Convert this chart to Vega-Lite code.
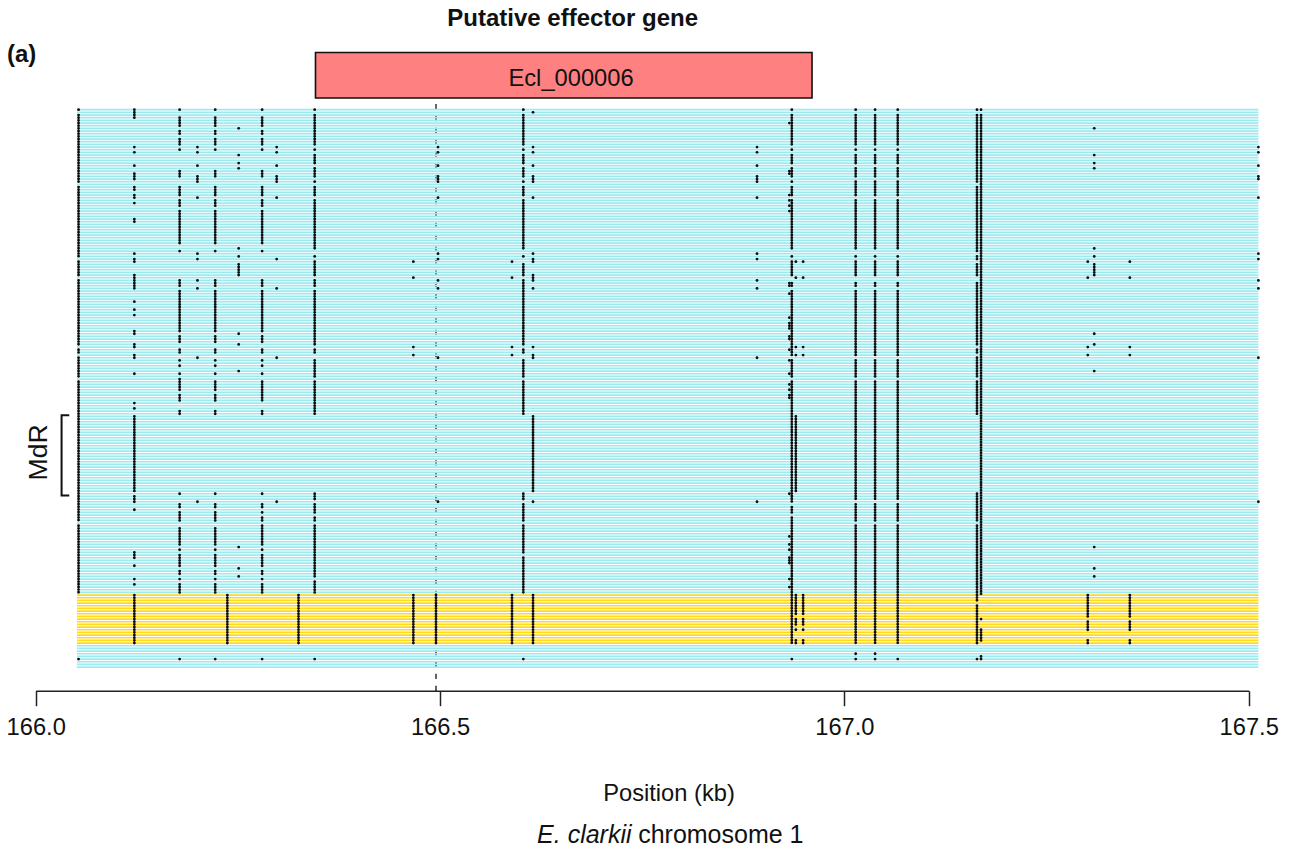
{
"$schema":"https://vega.github.io/schema/vega-lite/v6.json",
"width":1293,"height":852,"padding":0,"autosize":{"type":"none"},"background":"white",
"view":{"stroke":null},
"config":{"font":"Liberation Sans"},
"datasets":{
"rows":[{"x":166.051,"e":167.512,"r":0,"g":"I"},{"x":166.051,"e":167.512,"r":1,"g":"I"},{"x":166.051,"e":167.512,"r":2,"g":"I"},{"x":166.051,"e":167.512,"r":3,"g":"I"},{"x":166.051,"e":167.512,"r":4,"g":"I"},{"x":166.051,"e":167.512,"r":5,"g":"I"},{"x":166.051,"e":167.512,"r":6,"g":"I"},{"x":166.051,"e":167.512,"r":7,"g":"I"},{"x":166.051,"e":167.512,"r":8,"g":"I"},{"x":166.051,"e":167.512,"r":9,"g":"I"},{"x":166.051,"e":167.512,"r":10,"g":"I"},{"x":166.051,"e":167.512,"r":11,"g":"I"},{"x":166.051,"e":167.512,"r":12,"g":"I"},{"x":166.051,"e":167.512,"r":13,"g":"I"},{"x":166.051,"e":167.512,"r":14,"g":"I"},{"x":166.051,"e":167.512,"r":15,"g":"I"},{"x":166.051,"e":167.512,"r":16,"g":"I"},{"x":166.051,"e":167.512,"r":17,"g":"I"},{"x":166.051,"e":167.512,"r":18,"g":"I"},{"x":166.051,"e":167.512,"r":19,"g":"I"},{"x":166.051,"e":167.512,"r":20,"g":"I"},{"x":166.051,"e":167.512,"r":21,"g":"I"},{"x":166.051,"e":167.512,"r":22,"g":"I"},{"x":166.051,"e":167.512,"r":23,"g":"I"},{"x":166.051,"e":167.512,"r":24,"g":"I"},{"x":166.051,"e":167.512,"r":25,"g":"I"},{"x":166.051,"e":167.512,"r":26,"g":"I"},{"x":166.051,"e":167.512,"r":27,"g":"I"},{"x":166.051,"e":167.512,"r":28,"g":"I"},{"x":166.051,"e":167.512,"r":29,"g":"I"},{"x":166.051,"e":167.512,"r":30,"g":"I"},{"x":166.051,"e":167.512,"r":31,"g":"I"},{"x":166.051,"e":167.512,"r":32,"g":"I"},{"x":166.051,"e":167.512,"r":33,"g":"I"},{"x":166.051,"e":167.512,"r":34,"g":"I"},{"x":166.051,"e":167.512,"r":35,"g":"I"},{"x":166.051,"e":167.512,"r":36,"g":"I"},{"x":166.051,"e":167.512,"r":37,"g":"I"},{"x":166.051,"e":167.512,"r":38,"g":"I"},{"x":166.051,"e":167.512,"r":39,"g":"I"},{"x":166.051,"e":167.512,"r":40,"g":"I"},{"x":166.051,"e":167.512,"r":41,"g":"I"},{"x":166.051,"e":167.512,"r":42,"g":"I"},{"x":166.051,"e":167.512,"r":43,"g":"I"},{"x":166.051,"e":167.512,"r":44,"g":"I"},{"x":166.051,"e":167.512,"r":45,"g":"I"},{"x":166.051,"e":167.512,"r":46,"g":"I"},{"x":166.051,"e":167.512,"r":47,"g":"I"},{"x":166.051,"e":167.512,"r":48,"g":"I"},{"x":166.051,"e":167.512,"r":49,"g":"I"},{"x":166.051,"e":167.512,"r":50,"g":"I"},{"x":166.051,"e":167.512,"r":51,"g":"I"},{"x":166.051,"e":167.512,"r":52,"g":"I"},{"x":166.051,"e":167.512,"r":53,"g":"I"},{"x":166.051,"e":167.512,"r":54,"g":"I"},{"x":166.051,"e":167.512,"r":55,"g":"I"},{"x":166.051,"e":167.512,"r":56,"g":"I"},{"x":166.051,"e":167.512,"r":57,"g":"I"},{"x":166.051,"e":167.512,"r":58,"g":"I"},{"x":166.051,"e":167.512,"r":59,"g":"I"},{"x":166.051,"e":167.512,"r":60,"g":"I"},{"x":166.051,"e":167.512,"r":61,"g":"I"},{"x":166.051,"e":167.512,"r":62,"g":"I"},{"x":166.051,"e":167.512,"r":63,"g":"I"},{"x":166.051,"e":167.512,"r":64,"g":"I"},{"x":166.051,"e":167.512,"r":65,"g":"I"},{"x":166.051,"e":167.512,"r":66,"g":"I"},{"x":166.051,"e":167.512,"r":67,"g":"I"},{"x":166.051,"e":167.512,"r":68,"g":"I"},{"x":166.051,"e":167.512,"r":69,"g":"I"},{"x":166.051,"e":167.512,"r":70,"g":"I"},{"x":166.051,"e":167.512,"r":71,"g":"I"},{"x":166.051,"e":167.512,"r":72,"g":"I"},{"x":166.051,"e":167.512,"r":73,"g":"I"},{"x":166.051,"e":167.512,"r":74,"g":"I"},{"x":166.051,"e":167.512,"r":75,"g":"I"},{"x":166.051,"e":167.512,"r":76,"g":"I"},{"x":166.051,"e":167.512,"r":77,"g":"I"},{"x":166.051,"e":167.512,"r":78,"g":"I"},{"x":166.051,"e":167.512,"r":79,"g":"I"},{"x":166.051,"e":167.512,"r":80,"g":"I"},{"x":166.051,"e":167.512,"r":81,"g":"I"},{"x":166.051,"e":167.512,"r":82,"g":"I"},{"x":166.051,"e":167.512,"r":83,"g":"I"},{"x":166.051,"e":167.512,"r":84,"g":"I"},{"x":166.051,"e":167.512,"r":85,"g":"I"},{"x":166.051,"e":167.512,"r":86,"g":"I"},{"x":166.051,"e":167.512,"r":87,"g":"I"},{"x":166.051,"e":167.512,"r":88,"g":"I"},{"x":166.051,"e":167.512,"r":89,"g":"I"},{"x":166.051,"e":167.512,"r":90,"g":"I"},{"x":166.051,"e":167.512,"r":91,"g":"I"},{"x":166.051,"e":167.512,"r":92,"g":"I"},{"x":166.051,"e":167.512,"r":93,"g":"I"},{"x":166.051,"e":167.512,"r":94,"g":"I"},{"x":166.051,"e":167.512,"r":95,"g":"I"},{"x":166.051,"e":167.512,"r":96,"g":"I"},{"x":166.051,"e":167.512,"r":97,"g":"I"},{"x":166.051,"e":167.512,"r":98,"g":"I"},{"x":166.051,"e":167.512,"r":99,"g":"I"},{"x":166.051,"e":167.512,"r":100,"g":"I"},{"x":166.051,"e":167.512,"r":101,"g":"I"},{"x":166.051,"e":167.512,"r":102,"g":"I"},{"x":166.051,"e":167.512,"r":103,"g":"I"},{"x":166.051,"e":167.512,"r":104,"g":"I"},{"x":166.051,"e":167.512,"r":105,"g":"I"},{"x":166.051,"e":167.512,"r":106,"g":"I"},{"x":166.051,"e":167.512,"r":107,"g":"I"},{"x":166.051,"e":167.512,"r":108,"g":"I"},{"x":166.051,"e":167.512,"r":109,"g":"I"},{"x":166.051,"e":167.512,"r":110,"g":"I"},{"x":166.051,"e":167.512,"r":111,"g":"I"},{"x":166.051,"e":167.512,"r":112,"g":"I"},{"x":166.051,"e":167.512,"r":113,"g":"I"},{"x":166.051,"e":167.512,"r":114,"g":"I"},{"x":166.051,"e":167.512,"r":115,"g":"I"},{"x":166.051,"e":167.512,"r":116,"g":"I"},{"x":166.051,"e":167.512,"r":117,"g":"I"},{"x":166.051,"e":167.512,"r":118,"g":"I"},{"x":166.051,"e":167.512,"r":119,"g":"I"},{"x":166.051,"e":167.512,"r":120,"g":"I"},{"x":166.051,"e":167.512,"r":121,"g":"I"},{"x":166.051,"e":167.512,"r":122,"g":"I"},{"x":166.051,"e":167.512,"r":123,"g":"I"},{"x":166.051,"e":167.512,"r":124,"g":"I"},{"x":166.051,"e":167.512,"r":125,"g":"I"},{"x":166.051,"e":167.512,"r":126,"g":"I"},{"x":166.051,"e":167.512,"r":127,"g":"I"},{"x":166.051,"e":167.512,"r":128,"g":"I"},{"x":166.051,"e":167.512,"r":129,"g":"I"},{"x":166.051,"e":167.512,"r":130,"g":"I"},{"x":166.051,"e":167.512,"r":131,"g":"I"},{"x":166.051,"e":167.512,"r":132,"g":"I"},{"x":166.051,"e":167.512,"r":133,"g":"I"},{"x":166.051,"e":167.512,"r":134,"g":"I"},{"x":166.051,"e":167.512,"r":135,"g":"I"},{"x":166.051,"e":167.512,"r":136,"g":"I"},{"x":166.051,"e":167.512,"r":137,"g":"I"},{"x":166.051,"e":167.512,"r":138,"g":"I"},{"x":166.051,"e":167.512,"r":139,"g":"I"},{"x":166.051,"e":167.512,"r":140,"g":"I"},{"x":166.051,"e":167.512,"r":141,"g":"I"},{"x":166.051,"e":167.512,"r":142,"g":"I"},{"x":166.051,"e":167.512,"r":143,"g":"I"},{"x":166.051,"e":167.512,"r":144,"g":"I"},{"x":166.051,"e":167.512,"r":145,"g":"I"},{"x":166.051,"e":167.512,"r":146,"g":"I"},{"x":166.051,"e":167.512,"r":147,"g":"I"},{"x":166.051,"e":167.512,"r":148,"g":"I"},{"x":166.051,"e":167.512,"r":149,"g":"I"},{"x":166.051,"e":167.512,"r":150,"g":"I"},{"x":166.051,"e":167.512,"r":151,"g":"I"},{"x":166.051,"e":167.512,"r":152,"g":"I"},{"x":166.051,"e":167.512,"r":153,"g":"I"},{"x":166.051,"e":167.512,"r":154,"g":"I"},{"x":166.051,"e":167.512,"r":155,"g":"I"},{"x":166.051,"e":167.512,"r":156,"g":"I"},{"x":166.051,"e":167.512,"r":157,"g":"I"},{"x":166.051,"e":167.512,"r":158,"g":"I"},{"x":166.051,"e":167.512,"r":159,"g":"I"},{"x":166.051,"e":167.512,"r":160,"g":"I"},{"x":166.051,"e":167.512,"r":161,"g":"I"},{"x":166.051,"e":167.512,"r":162,"g":"I"},{"x":166.051,"e":167.512,"r":163,"g":"I"},{"x":166.051,"e":167.512,"r":164,"g":"I"},{"x":166.051,"e":167.512,"r":165,"g":"I"},{"x":166.051,"e":167.512,"r":166,"g":"I"},{"x":166.051,"e":167.512,"r":167,"g":"I"},{"x":166.051,"e":167.512,"r":168,"g":"I"},{"x":166.051,"e":167.512,"r":169,"g":"I"},{"x":166.051,"e":167.512,"r":170,"g":"I"},{"x":166.051,"e":167.512,"r":171,"g":"I"},{"x":166.051,"e":167.512,"r":172,"g":"I"},{"x":166.051,"e":167.512,"r":173,"g":"I"},{"x":166.051,"e":167.512,"r":174,"g":"I"},{"x":166.051,"e":167.512,"r":175,"g":"I"},{"x":166.051,"e":167.512,"r":176,"g":"I"},{"x":166.051,"e":167.512,"r":177,"g":"I"},{"x":166.051,"e":167.512,"r":178,"g":"I"},{"x":166.051,"e":167.512,"r":179,"g":"I"},{"x":166.051,"e":167.512,"r":180,"g":"I"},{"x":166.051,"e":167.512,"r":181,"g":"I"},{"x":166.051,"e":167.512,"r":182,"g":"II"},{"x":166.051,"e":167.512,"r":183,"g":"II"},{"x":166.051,"e":167.512,"r":184,"g":"II"},{"x":166.051,"e":167.512,"r":185,"g":"II"},{"x":166.051,"e":167.512,"r":186,"g":"II"},{"x":166.051,"e":167.512,"r":187,"g":"II"},{"x":166.051,"e":167.512,"r":188,"g":"II"},{"x":166.051,"e":167.512,"r":189,"g":"II"},{"x":166.051,"e":167.512,"r":190,"g":"II"},{"x":166.051,"e":167.512,"r":191,"g":"II"},{"x":166.051,"e":167.512,"r":192,"g":"II"},{"x":166.051,"e":167.512,"r":193,"g":"II"},{"x":166.051,"e":167.512,"r":194,"g":"II"},{"x":166.051,"e":167.512,"r":195,"g":"II"},{"x":166.051,"e":167.512,"r":196,"g":"II"},{"x":166.051,"e":167.512,"r":197,"g":"II"},{"x":166.051,"e":167.512,"r":198,"g":"II"},{"x":166.051,"e":167.512,"r":199,"g":"II"},{"x":166.051,"e":167.512,"r":200,"g":"II"},{"x":166.051,"e":167.512,"r":201,"g":"I"},{"x":166.051,"e":167.512,"r":202,"g":"I"},{"x":166.051,"e":167.512,"r":203,"g":"I"},{"x":166.051,"e":167.512,"r":204,"g":"I"},{"x":166.051,"e":167.512,"r":205,"g":"I"},{"x":166.051,"e":167.512,"r":206,"g":"I"},{"x":166.051,"e":167.512,"r":207,"g":"I"},{"x":166.051,"e":167.512,"r":208,"g":"I"},{"x":166.051,"e":167.512,"r":209,"g":"I"}],
"runs":[
{"x":166.053,"a":0,"b":0},{"x":166.053,"a":2,"b":27},{"x":166.053,"a":29,"b":55},{"x":166.053,"a":57,"b":62},{"x":166.053,"a":64,"b":88},{"x":166.053,"a":90,"b":91},{"x":166.053,"a":93,"b":100},{"x":166.053,"a":102,"b":154},{"x":166.053,"a":156,"b":181},{"x":166.053,"a":206,"b":206},
{"x":166.122,"a":0,"b":3},{"x":166.122,"a":14,"b":14},{"x":166.122,"a":16,"b":16},{"x":166.122,"a":21,"b":21},{"x":166.122,"a":24,"b":26},{"x":166.122,"a":29,"b":30},{"x":166.122,"a":32,"b":33},{"x":166.122,"a":35,"b":35},{"x":166.122,"a":41,"b":42},{"x":166.122,"a":54,"b":54},{"x":166.122,"a":56,"b":57},{"x":166.122,"a":62,"b":67},{"x":166.122,"a":72,"b":72},{"x":166.122,"a":75,"b":75},{"x":166.122,"a":77,"b":77},{"x":166.122,"a":83,"b":84},{"x":166.122,"a":88,"b":89},{"x":166.122,"a":92,"b":93},{"x":166.122,"a":99,"b":99},{"x":166.122,"a":110,"b":110},{"x":166.122,"a":112,"b":112},{"x":166.122,"a":115,"b":143},{"x":166.122,"a":145,"b":147},{"x":166.122,"a":150,"b":150},{"x":166.122,"a":166,"b":168},{"x":166.122,"a":171,"b":171},{"x":166.122,"a":176,"b":176},{"x":166.122,"a":178,"b":178},{"x":166.122,"a":182,"b":200},
{"x":166.178,"a":0,"b":0},{"x":166.178,"a":3,"b":6},{"x":166.178,"a":8,"b":9},{"x":166.178,"a":11,"b":13},{"x":166.178,"a":15,"b":15},{"x":166.178,"a":23,"b":25},{"x":166.178,"a":29,"b":32},{"x":166.178,"a":34,"b":36},{"x":166.178,"a":38,"b":50},{"x":166.178,"a":53,"b":53},{"x":166.178,"a":64,"b":66},{"x":166.178,"a":68,"b":83},{"x":166.178,"a":85,"b":87},{"x":166.178,"a":90,"b":91},{"x":166.178,"a":94,"b":94},{"x":166.178,"a":96,"b":96},{"x":166.178,"a":99,"b":99},{"x":166.178,"a":101,"b":105},{"x":166.178,"a":107,"b":109},{"x":166.178,"a":113,"b":114},{"x":166.178,"a":144,"b":144},{"x":166.178,"a":148,"b":149},{"x":166.178,"a":151,"b":154},{"x":166.178,"a":157,"b":163},{"x":166.178,"a":165,"b":165},{"x":166.178,"a":167,"b":171},{"x":166.178,"a":173,"b":174},{"x":166.178,"a":176,"b":176},{"x":166.178,"a":178,"b":181},{"x":166.178,"a":206,"b":206},
{"x":166.222,"a":0,"b":0},{"x":166.222,"a":3,"b":6},{"x":166.222,"a":8,"b":9},{"x":166.222,"a":11,"b":13},{"x":166.222,"a":15,"b":15},{"x":166.222,"a":23,"b":25},{"x":166.222,"a":29,"b":32},{"x":166.222,"a":34,"b":36},{"x":166.222,"a":38,"b":50},{"x":166.222,"a":53,"b":53},{"x":166.222,"a":64,"b":66},{"x":166.222,"a":68,"b":83},{"x":166.222,"a":85,"b":87},{"x":166.222,"a":90,"b":91},{"x":166.222,"a":94,"b":94},{"x":166.222,"a":96,"b":96},{"x":166.222,"a":99,"b":99},{"x":166.222,"a":102,"b":105},{"x":166.222,"a":107,"b":109},{"x":166.222,"a":113,"b":114},{"x":166.222,"a":144,"b":144},{"x":166.222,"a":148,"b":149},{"x":166.222,"a":151,"b":154},{"x":166.222,"a":157,"b":163},{"x":166.222,"a":165,"b":165},{"x":166.222,"a":167,"b":171},{"x":166.222,"a":173,"b":174},{"x":166.222,"a":176,"b":176},{"x":166.222,"a":178,"b":181},{"x":166.222,"a":206,"b":206},
{"x":166.28,"a":0,"b":0},{"x":166.28,"a":3,"b":6},{"x":166.28,"a":8,"b":9},{"x":166.28,"a":11,"b":13},{"x":166.28,"a":15,"b":15},{"x":166.28,"a":23,"b":25},{"x":166.28,"a":29,"b":32},{"x":166.28,"a":34,"b":36},{"x":166.28,"a":38,"b":50},{"x":166.28,"a":53,"b":53},{"x":166.28,"a":64,"b":66},{"x":166.28,"a":68,"b":83},{"x":166.28,"a":85,"b":87},{"x":166.28,"a":90,"b":91},{"x":166.28,"a":94,"b":94},{"x":166.28,"a":96,"b":96},{"x":166.28,"a":99,"b":99},{"x":166.28,"a":102,"b":109},{"x":166.28,"a":113,"b":114},{"x":166.28,"a":144,"b":144},{"x":166.28,"a":148,"b":149},{"x":166.28,"a":151,"b":151},{"x":166.28,"a":153,"b":154},{"x":166.28,"a":156,"b":163},{"x":166.28,"a":165,"b":165},{"x":166.28,"a":167,"b":171},{"x":166.28,"a":173,"b":174},{"x":166.28,"a":176,"b":176},{"x":166.28,"a":178,"b":181},{"x":166.28,"a":206,"b":206},
{"x":166.345,"a":0,"b":0},{"x":166.345,"a":2,"b":13},{"x":166.345,"a":15,"b":15},{"x":166.345,"a":17,"b":20},{"x":166.345,"a":22,"b":25},{"x":166.345,"a":27,"b":27},{"x":166.345,"a":29,"b":32},{"x":166.345,"a":34,"b":52},{"x":166.345,"a":55,"b":55},{"x":166.345,"a":57,"b":62},{"x":166.345,"a":64,"b":66},{"x":166.345,"a":68,"b":88},{"x":166.345,"a":90,"b":91},{"x":166.345,"a":94,"b":100},{"x":166.345,"a":102,"b":114},{"x":166.345,"a":144,"b":146},{"x":166.345,"a":148,"b":151},{"x":166.345,"a":153,"b":154},{"x":166.345,"a":156,"b":175},{"x":166.345,"a":177,"b":181},{"x":166.345,"a":206,"b":206},
{"x":166.2,"a":14,"b":14},{"x":166.2,"a":16,"b":16},{"x":166.2,"a":21,"b":21},{"x":166.2,"a":25,"b":27},{"x":166.2,"a":33,"b":33},{"x":166.2,"a":54,"b":54},{"x":166.2,"a":56,"b":56},{"x":166.2,"a":64,"b":64},{"x":166.2,"a":67,"b":67},{"x":166.2,"a":93,"b":93},{"x":166.2,"a":147,"b":147},
{"x":166.298,"a":14,"b":14},{"x":166.298,"a":16,"b":16},{"x":166.298,"a":21,"b":21},{"x":166.298,"a":25,"b":27},{"x":166.298,"a":33,"b":33},{"x":166.298,"a":56,"b":56},{"x":166.298,"a":67,"b":67},{"x":166.298,"a":93,"b":93},{"x":166.298,"a":147,"b":147},
{"x":166.4975,"a":14,"b":14},{"x":166.4975,"a":16,"b":16},{"x":166.4975,"a":21,"b":21},{"x":166.4975,"a":25,"b":27},{"x":166.4975,"a":33,"b":33},{"x":166.4975,"a":54,"b":54},{"x":166.4975,"a":56,"b":56},{"x":166.4975,"a":64,"b":64},{"x":166.4975,"a":67,"b":67},{"x":166.4975,"a":93,"b":93},{"x":166.4975,"a":147,"b":147},
{"x":166.892,"a":14,"b":14},{"x":166.892,"a":16,"b":16},{"x":166.892,"a":21,"b":21},{"x":166.892,"a":25,"b":27},{"x":166.892,"a":33,"b":33},{"x":166.892,"a":54,"b":54},{"x":166.892,"a":56,"b":56},{"x":166.892,"a":64,"b":64},{"x":166.892,"a":67,"b":67},{"x":166.892,"a":93,"b":93},{"x":166.892,"a":147,"b":147},
{"x":167.512,"a":14,"b":14},{"x":167.512,"a":16,"b":16},{"x":167.512,"a":21,"b":21},{"x":167.512,"a":25,"b":26},{"x":167.512,"a":33,"b":33},{"x":167.512,"a":54,"b":54},{"x":167.512,"a":56,"b":56},{"x":167.512,"a":64,"b":64},{"x":167.512,"a":67,"b":67},{"x":167.512,"a":93,"b":93},{"x":167.512,"a":147,"b":147},
{"x":166.615,"a":1,"b":1},{"x":166.615,"a":14,"b":14},{"x":166.615,"a":16,"b":16},{"x":166.615,"a":21,"b":21},{"x":166.615,"a":25,"b":27},{"x":166.615,"a":33,"b":33},{"x":166.615,"a":54,"b":54},{"x":166.615,"a":56,"b":57},{"x":166.615,"a":62,"b":64},{"x":166.615,"a":67,"b":67},{"x":166.615,"a":89,"b":89},{"x":166.615,"a":92,"b":93},{"x":166.615,"a":115,"b":143},{"x":166.615,"a":147,"b":147},{"x":166.615,"a":182,"b":200},
{"x":166.251,"a":7,"b":7},{"x":166.251,"a":17,"b":17},{"x":166.251,"a":20,"b":20},{"x":166.251,"a":22,"b":22},{"x":166.251,"a":52,"b":52},{"x":166.251,"a":55,"b":55},{"x":166.251,"a":58,"b":62},{"x":166.251,"a":84,"b":84},{"x":166.251,"a":88,"b":88},{"x":166.251,"a":98,"b":98},{"x":166.251,"a":164,"b":164},{"x":166.251,"a":172,"b":172},{"x":166.251,"a":175,"b":175},
{"x":167.309,"a":7,"b":7},{"x":167.309,"a":17,"b":17},{"x":167.309,"a":20,"b":20},{"x":167.309,"a":22,"b":22},{"x":167.309,"a":52,"b":52},{"x":167.309,"a":55,"b":55},{"x":167.309,"a":58,"b":62},{"x":167.309,"a":84,"b":84},{"x":167.309,"a":88,"b":88},{"x":167.309,"a":98,"b":98},{"x":167.309,"a":164,"b":164},{"x":167.309,"a":172,"b":172},{"x":167.309,"a":175,"b":175},
{"x":166.237,"a":182,"b":200},{"x":166.325,"a":182,"b":200},{"x":166.495,"a":182,"b":200},
{"x":166.467,"a":57,"b":57},{"x":166.467,"a":63,"b":63},{"x":166.467,"a":89,"b":89},{"x":166.467,"a":92,"b":92},{"x":166.467,"a":182,"b":200},
{"x":166.589,"a":57,"b":57},{"x":166.589,"a":63,"b":63},{"x":166.589,"a":89,"b":89},{"x":166.589,"a":92,"b":92},{"x":166.589,"a":182,"b":200},
{"x":167.301,"a":57,"b":57},{"x":167.301,"a":63,"b":63},{"x":167.301,"a":89,"b":89},{"x":167.301,"a":92,"b":92},{"x":167.301,"a":182,"b":190},{"x":167.301,"a":192,"b":195},{"x":167.301,"a":199,"b":200},
{"x":167.353,"a":57,"b":57},{"x":167.353,"a":63,"b":63},{"x":167.353,"a":89,"b":89},{"x":167.353,"a":92,"b":92},{"x":167.353,"a":182,"b":190},{"x":167.353,"a":192,"b":195},{"x":167.353,"a":199,"b":200},
{"x":166.603,"a":0,"b":0},{"x":166.603,"a":2,"b":13},{"x":166.603,"a":15,"b":15},{"x":166.603,"a":17,"b":20},{"x":166.603,"a":22,"b":25},{"x":166.603,"a":27,"b":27},{"x":166.603,"a":29,"b":32},{"x":166.603,"a":34,"b":52},{"x":166.603,"a":55,"b":55},{"x":166.603,"a":58,"b":62},{"x":166.603,"a":64,"b":88},{"x":166.603,"a":90,"b":91},{"x":166.603,"a":94,"b":100},{"x":166.603,"a":102,"b":114},{"x":166.603,"a":144,"b":146},{"x":166.603,"a":148,"b":154},{"x":166.603,"a":156,"b":166},{"x":166.603,"a":168,"b":181},{"x":166.603,"a":206,"b":206},
{"x":166.935,"a":0,"b":0},{"x":166.935,"a":2,"b":13},{"x":166.935,"a":15,"b":15},{"x":166.935,"a":17,"b":20},{"x":166.935,"a":22,"b":25},{"x":166.935,"a":27,"b":27},{"x":166.935,"a":29,"b":32},{"x":166.935,"a":34,"b":52},{"x":166.935,"a":55,"b":55},{"x":166.935,"a":57,"b":62},{"x":166.935,"a":65,"b":66},{"x":166.935,"a":68,"b":92},{"x":166.935,"a":94,"b":100},{"x":166.935,"a":102,"b":147},{"x":166.935,"a":149,"b":151},{"x":166.935,"a":153,"b":200},{"x":166.935,"a":206,"b":206},
{"x":166.932,"a":5,"b":5},{"x":166.932,"a":23,"b":24},{"x":166.932,"a":32,"b":32},{"x":166.932,"a":34,"b":34},{"x":166.932,"a":36,"b":36},{"x":166.932,"a":38,"b":38},{"x":166.932,"a":65,"b":66},{"x":166.932,"a":69,"b":69},{"x":166.932,"a":78,"b":78},{"x":166.932,"a":80,"b":82},{"x":166.932,"a":85,"b":86},{"x":166.932,"a":90,"b":90},{"x":166.932,"a":94,"b":94},{"x":166.932,"a":99,"b":99},{"x":166.932,"a":103,"b":103},{"x":166.932,"a":105,"b":105},{"x":166.932,"a":107,"b":108},{"x":166.932,"a":144,"b":144},{"x":166.932,"a":160,"b":160},{"x":166.932,"a":163,"b":163},{"x":166.932,"a":165,"b":165},{"x":166.932,"a":168,"b":170},{"x":166.932,"a":176,"b":176},{"x":166.932,"a":179,"b":179},
{"x":166.94,"a":57,"b":57},{"x":166.94,"a":63,"b":63},{"x":166.94,"a":89,"b":89},{"x":166.94,"a":92,"b":92},{"x":166.94,"a":115,"b":143},{"x":166.94,"a":182,"b":189},{"x":166.94,"a":191,"b":193},{"x":166.94,"a":195,"b":195},{"x":166.94,"a":199,"b":200},
{"x":166.949,"a":57,"b":57},{"x":166.949,"a":63,"b":63},{"x":166.949,"a":89,"b":89},{"x":166.949,"a":92,"b":92},{"x":166.949,"a":182,"b":189},{"x":166.949,"a":191,"b":193},{"x":166.949,"a":195,"b":195},{"x":166.949,"a":199,"b":200},
{"x":167.014,"a":0,"b":0},{"x":167.014,"a":2,"b":13},{"x":167.014,"a":15,"b":15},{"x":167.014,"a":17,"b":20},{"x":167.014,"a":22,"b":25},{"x":167.014,"a":27,"b":32},{"x":167.014,"a":34,"b":52},{"x":167.014,"a":55,"b":55},{"x":167.014,"a":57,"b":62},{"x":167.014,"a":65,"b":66},{"x":167.014,"a":68,"b":92},{"x":167.014,"a":94,"b":100},{"x":167.014,"a":102,"b":146},{"x":167.014,"a":148,"b":154},{"x":167.014,"a":156,"b":200},{"x":167.014,"a":204,"b":204},{"x":167.014,"a":206,"b":206},
{"x":167.038,"a":0,"b":0},{"x":167.038,"a":2,"b":13},{"x":167.038,"a":15,"b":15},{"x":167.038,"a":17,"b":20},{"x":167.038,"a":22,"b":25},{"x":167.038,"a":27,"b":32},{"x":167.038,"a":34,"b":52},{"x":167.038,"a":55,"b":55},{"x":167.038,"a":57,"b":62},{"x":167.038,"a":65,"b":66},{"x":167.038,"a":68,"b":92},{"x":167.038,"a":94,"b":100},{"x":167.038,"a":102,"b":146},{"x":167.038,"a":148,"b":154},{"x":167.038,"a":156,"b":200},{"x":167.038,"a":204,"b":204},{"x":167.038,"a":206,"b":206},
{"x":167.066,"a":0,"b":0},{"x":167.066,"a":2,"b":13},{"x":167.066,"a":15,"b":15},{"x":167.066,"a":17,"b":20},{"x":167.066,"a":22,"b":25},{"x":167.066,"a":27,"b":32},{"x":167.066,"a":34,"b":52},{"x":167.066,"a":55,"b":55},{"x":167.066,"a":57,"b":62},{"x":167.066,"a":65,"b":66},{"x":167.066,"a":68,"b":92},{"x":167.066,"a":94,"b":100},{"x":167.066,"a":102,"b":146},{"x":167.066,"a":148,"b":154},{"x":167.066,"a":156,"b":200},{"x":167.066,"a":206,"b":206},
{"x":167.164,"a":0,"b":0},{"x":167.164,"a":2,"b":27},{"x":167.164,"a":29,"b":53},{"x":167.164,"a":55,"b":56},{"x":167.164,"a":58,"b":62},{"x":167.164,"a":65,"b":88},{"x":167.164,"a":90,"b":91},{"x":167.164,"a":93,"b":100},{"x":167.164,"a":102,"b":114},{"x":167.164,"a":144,"b":154},{"x":167.164,"a":156,"b":184},{"x":167.164,"a":186,"b":200},{"x":167.164,"a":206,"b":206},
{"x":167.169,"a":0,"b":0},{"x":167.169,"a":2,"b":182},{"x":167.169,"a":191,"b":191},{"x":167.169,"a":195,"b":199},{"x":167.169,"a":205,"b":206}
],
"bracket":[{"x":166.0415,"r":114.6,"o":1},{"x":166.032,"r":114.6,"o":2},{"x":166.032,"r":144.7,"o":3},{"x":166.0415,"r":144.7,"o":4}]
},
"encoding":{"x":{"field":"x","type":"quantitative","title":"Position (kb)","scale":{"domain":[166,167.5],"range":[35.7,1248.7],"nice":false,"zero":false},
"axis":{"values":[166,166.5,167,167.5],"format":".1f","grid":false,"offset":-161.3,"domainColor":"#222222","domainWidth":1.5,"tickColor":"#222222","tickWidth":1.5,"tickSize":15,"labelFontSize":23.7,"labelFont":"Liberation Sans","labelColor":"#111111","labelPadding":10,"labelFlush":false,"labelOverlap":false,"titleFont":"Liberation Sans","titleFontSize":23.7,"titleFontWeight":"normal","titleColor":"#111111","titleX":668.5,"titleY":110,"titleBaseline":"alphabetic","titleAlign":"center"}}},
"layer":[
{"mark":{"type":"rule","strokeWidth":1.2,"color":"#000000","strokeDash":[5.2,6.67]},"data":{"values":[{"x":166.495,"a":-2.1,"b":218}]},
 "encoding":{"y":{"field":"a","type":"quantitative","scale":{"domain":[0,209],"range":[109.7,667.1],"nice":false,"zero":false},"axis":null},"y2":{"field":"b"}}},
{"mark":{"type":"rule","strokeWidth":1.7},"data":{"name":"rows"},
 "encoding":{"x2":{"field":"e"},"y":{"field":"r","type":"quantitative","axis":null},"color":{"field":"g","type":"nominal","legend":null,"scale":{"domain":["I","II"],"range":["#9BEBF0","#FFD91A"]}}}},
{"mark":{"type":"rule","strokeWidth":2.8,"strokeCap":"round","color":"#0c0c0c","strokeDash":[0.02,2.64]},"data":{"name":"runs"},"transform":[{"filter":"datum.a != datum.b"}],
 "encoding":{"y":{"field":"a","type":"quantitative","axis":null},"y2":{"field":"b"}}},
{"mark":{"type":"rule","strokeWidth":2.8,"strokeCap":"round","color":"#0c0c0c"},"data":{"name":"runs"},"transform":[{"filter":"datum.a == datum.b"}],
 "encoding":{"y":{"field":"a","type":"quantitative","axis":null},"y2":{"field":"b"}}},
{"mark":{"type":"rect","fill":"#FF8080","stroke":"#111111","strokeWidth":1.6},"data":{"values":[{"x":166.346,"x2":166.96,"a":-21.45,"b":-4.39}]},
 "encoding":{"x2":{"field":"x2"},"y":{"field":"a","type":"quantitative","axis":null},"y2":{"field":"b"}}},
{"mark":{"type":"line","color":"#111111","strokeWidth":2,"interpolate":"linear"},"data":{"name":"bracket"},
 "encoding":{"y":{"field":"r","type":"quantitative","axis":null},"order":{"field":"o"}}},
{"mark":{"type":"text","font":"Liberation Sans","fontSize":24,"fontWeight":"bold","color":"#111111","baseline":"alphabetic","align":"center"},
 "data":{"values":[{"x":166.664,"r":-31.4,"t":"Putative effector gene"}]},
 "encoding":{"y":{"field":"r","type":"quantitative","axis":null},"text":{"field":"t"}}},
{"mark":{"type":"text","font":"Liberation Sans","fontSize":24,"fontWeight":"bold","color":"#111111","baseline":"alphabetic","align":"left"},
 "data":{"values":[{"x":165.9645,"r":-17.9,"t":"(a)"}]},
 "encoding":{"y":{"field":"r","type":"quantitative","axis":null},"text":{"field":"t"}}},
{"mark":{"type":"text","font":"Liberation Sans","fontSize":23.7,"color":"#111111","baseline":"alphabetic","align":"center"},
 "data":{"values":[{"x":166.662,"r":-8.9,"t":"Ecl_000006"}]},
 "encoding":{"y":{"field":"r","type":"quantitative","axis":null},"text":{"field":"t"}}},
{"mark":{"type":"text","font":"Liberation Sans","fontSize":25,"color":"#111111","baseline":"alphabetic","align":"left"},
 "data":{"values":[{"x":166.745,"r":275,"t":"chromosome 1"}]},
 "encoding":{"y":{"field":"r","type":"quantitative","axis":null},"text":{"field":"t"}}},
{"mark":{"type":"text","font":"Liberation Sans","fontSize":25,"fontStyle":"italic","color":"#111111","baseline":"alphabetic","align":"left"},
 "data":{"values":[{"x":166.62,"r":275,"t":"E. clarkii"}]},
 "encoding":{"y":{"field":"r","type":"quantitative","axis":null},"text":{"field":"t"}}},
{"mark":{"type":"text","font":"Liberation Sans","fontSize":26.5,"angle":270,"color":"#111111","baseline":"alphabetic","align":"center"},
 "data":{"values":[{"x":166.014,"r":128.5,"t":"MdR"}]},
 "encoding":{"y":{"field":"r","type":"quantitative","axis":null},"text":{"field":"t"}}}
]
}
